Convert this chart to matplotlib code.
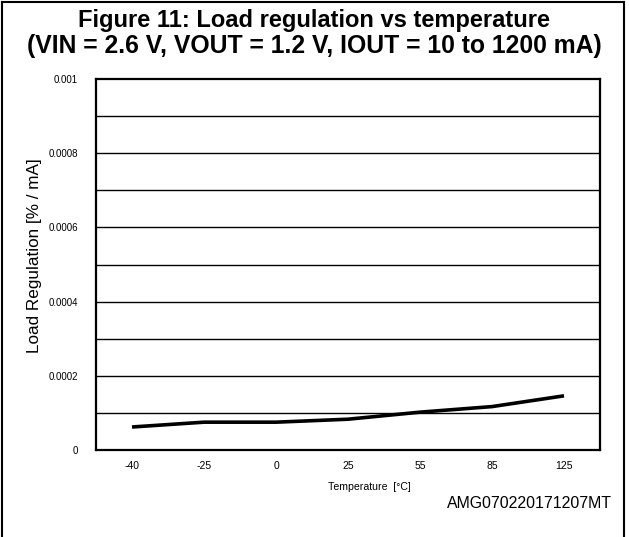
import matplotlib.pyplot as plt

plt.rcParams['font.family'] = ['Liberation Sans', 'DejaVu Sans']

# data
temps = ['-40', '-25', '0', '25', '55', '85', '125']
load_reg = [0.000062, 0.000075, 0.000075, 0.000083, 0.000102, 0.000117, 0.000146]
y_ticks = [0, 0.0002, 0.0004, 0.0006, 0.0008, 0.001]
y_tick_labels = ['0', '0.0002', '0.0004', '0.0006', '0.0008', '0.001']

W, H = 629, 537
fig = plt.figure(figsize=(W / 100, H / 100), dpi=100)
ax = fig.add_axes([96 / W, 87 / H, 504 / W, 371 / H])

# figure frame (left, top, right)
fx0, fx1, fy = 1.5 / W, 623.5 / W, 1 - 1.5 / H
for xs, ys in [([fx0, fx0], [0, fy]), ([fx0, fx1], [fy, fy]), ([fx1, fx1], [0, fy])]:
    fig.add_artist(plt.Line2D(xs, ys, transform=fig.transFigure, color='black', lw=1.5))

x = list(range(len(temps)))
ax.plot(x, load_reg, color='black', lw=2.6, solid_capstyle='butt')

ax.set_xlim(-0.5, len(temps) - 0.5)
ax.set_ylim(0, 0.001)
ax.set_xticks(x)
ax.set_xticklabels(temps, fontsize=7.5)
ax.set_yticks(y_ticks)
ax.set_yticklabels(y_tick_labels, fontsize=7)
ax.tick_params(length=0)
ax.tick_params(axis='x', pad=8)
ax.tick_params(axis='y', pad=13)

for g in range(1, 10):
    ax.axhline(g * 0.0001, color='black', lw=1.0, zorder=0)

for s in ax.spines.values():
    s.set_linewidth(1.6)

# axis labels
fig.text(35 / W, 1 - 256 / H, 'Load Regulation [% / mA]', rotation=90,
         ha='center', va='center', fontsize=12.3)
fig.text(369 / W, 1 - 487 / H, 'Temperature  [°C]', ha='center', va='center', fontsize=7.6)

# title
fig.text(0.5, 1 - 20 / H, 'Figure 11: Load regulation vs temperature',
         ha='center', va='center', fontsize=17, fontweight='bold')
fig.text(0.5, 1 - 46 / H, '(VIN = 2.6 V, VOUT = 1.2 V, IOUT = 10 to 1200 mA)',
         ha='center', va='center', fontsize=17.8, fontweight='bold')
fig.text(612 / W, 1 - 504 / H, 'AMG070220171207MT', ha='right', va='center', fontsize=11.4)

fig.savefig('out.png', dpi=100, facecolor='white')
